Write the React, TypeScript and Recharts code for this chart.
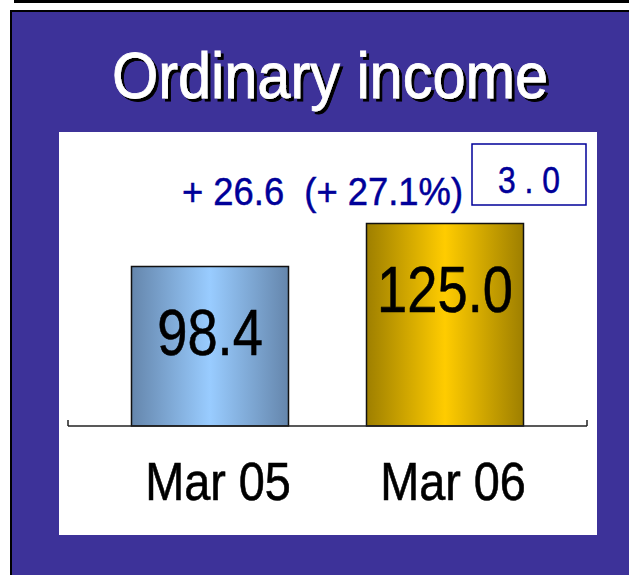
import { Bar, BarChart, Cell, LabelList, XAxis, YAxis } from 'recharts';

const periods = ['Mar 05', 'Mar 06'];
const income = [98.4, 125.0];
const changeAbs = 26.6;
const changePct = 27.1;
const boxedValue = 3.0;

const data = periods.map((period, i) => ({ period, income: income[i] }));

const FONT = '"Liberation Sans", Arial, sans-serif';
const PANEL = { left: 59, top: 132, width: 538, height: 403 };
const MARGIN = { top: 51, right: 10, bottom: 49, left: 9 };
const AXIS_Y = PANEL.top + PANEL.height - MARGIN.bottom - 60;
const fills = ['url(#gradBlue)', 'url(#gradGold)'];

const PeriodTick = (props: any) => {
  const { x, y, payload } = props;
  return (
    <text
      transform={`translate(${x + 8},${y + 74}) scale(0.875,1)`}
      textAnchor="middle"
      fontFamily={FONT}
      fontSize={53.5}
      fill="#000"
      stroke="#000"
      strokeWidth={0.6}
    >
      {payload.value}
    </text>
  );
};

const BarValue = (props: any) => {
  const { x, y, width, value } = props;
  return (
    <text
      transform={`translate(${x + width / 2},${y + 88}) scale(0.835,1)`}
      textAnchor="middle"
      fontFamily={FONT}
      fontSize={65}
      fill="#000"
      stroke="#000"
      strokeWidth={0.6}
    >
      {Number(value).toFixed(1)}
    </text>
  );
};

export default function App() {
  const axisLeft = PANEL.left + MARGIN.left;
  const axisRight = PANEL.left + PANEL.width - MARGIN.right;
  return (
    <div style={{ position: 'absolute', left: 0, top: 0, width: 629, height: 575, background: '#fff', overflow: 'hidden' }}>
      <div style={{ position: 'absolute', left: 14, top: 0, width: 615, height: 3, background: '#000' }} />
      <div
        style={{
          position: 'absolute',
          left: 10,
          top: 10,
          width: 619,
          height: 565,
          boxSizing: 'border-box',
          background: '#3D3299',
          borderLeft: '2px solid #000',
          borderTop: '2px solid #000',
        }}
      />
      <div style={{ position: 'absolute', left: PANEL.left, top: PANEL.top, width: PANEL.width, height: PANEL.height, background: '#fff' }} />
      <div style={{ position: 'absolute', left: PANEL.left, top: PANEL.top }}>
        <BarChart width={PANEL.width} height={PANEL.height} data={data} margin={MARGIN}>
          <defs>
            <linearGradient id="gradBlue" x1="0" y1="0" x2="1" y2="0">
              <stop offset="0%" stopColor="#6586AC" />
              <stop offset="50%" stopColor="#99CCFF" />
              <stop offset="100%" stopColor="#6586AC" />
            </linearGradient>
            <linearGradient id="gradGold" x1="0" y1="0" x2="1" y2="0">
              <stop offset="0%" stopColor="#9E7F00" />
              <stop offset="50%" stopColor="#FFCC00" />
              <stop offset="100%" stopColor="#9E7F00" />
            </linearGradient>
          </defs>
          <XAxis
            dataKey="period"
            axisLine={{ stroke: '#222', strokeWidth: 1.5 }}
            tickLine={false}
            tickSize={0}
            tickMargin={0}
            height={60}
            interval={0}
            padding={{ left: 24.5, right: 24.5 }}
            tick={<PeriodTick />}
          />
          <YAxis hide domain={[0, 150]} />
          <Bar dataKey="income" barSize={157} stroke="#111" strokeWidth={1.5} isAnimationActive={false}>
            {data.map((d, i) => (
              <Cell key={d.period} fill={fills[i]} />
            ))}
            <LabelList dataKey="income" content={<BarValue />} />
          </Bar>
        </BarChart>
      </div>
      <svg width={629} height={575} style={{ position: 'absolute', left: 0, top: 0, pointerEvents: 'none' }}>
        <defs>
          <filter id="titleShadow" x="-5%" y="-20%" width="110%" height="140%">
            <feDropShadow dx={3} dy={3} stdDeviation={0.3} floodColor="#000" floodOpacity={1} />
          </filter>
        </defs>
        <text
          x={330}
          y={98}
          textAnchor="middle"
          fontFamily={FONT}
          fontSize={65}
          textLength={436}
          lengthAdjust="spacingAndGlyphs"
          fill="#fff"
          stroke="#fff"
          strokeWidth={0.8}
          filter="url(#titleShadow)"
        >
          Ordinary income
        </text>
        <text
          x={182}
          y={205}
          fontFamily={FONT}
          fontSize={39}
          textLength={281}
          lengthAdjust="spacingAndGlyphs"
          fill="#000099"
          stroke="#000099"
          strokeWidth={0.5}
          style={{ whiteSpace: 'pre' }}
        >
          {`+ ${changeAbs.toFixed(1)}  (+ ${changePct.toFixed(1)}%)`}
        </text>
        <rect x={472} y={144} width={114} height={61} fill="#fff" stroke="#000099" strokeWidth={1.5} />
        <text
          x={529}
          y={193}
          textAnchor="middle"
          fontFamily={FONT}
          fontSize={36}
          textLength={62}
          lengthAdjust="spacingAndGlyphs"
          fill="#000099"
          stroke="#000099"
          strokeWidth={0.5}
          style={{ whiteSpace: 'pre' }}
        >
          {boxedValue.toFixed(1).split('').join(' ')}
        </text>
        <line x1={axisLeft} y1={AXIS_Y - 6} x2={axisLeft} y2={AXIS_Y} stroke="#222" strokeWidth={1.5} />
        <line x1={axisRight} y1={AXIS_Y - 6} x2={axisRight} y2={AXIS_Y} stroke="#222" strokeWidth={1.5} />
      </svg>
    </div>
  );
}
